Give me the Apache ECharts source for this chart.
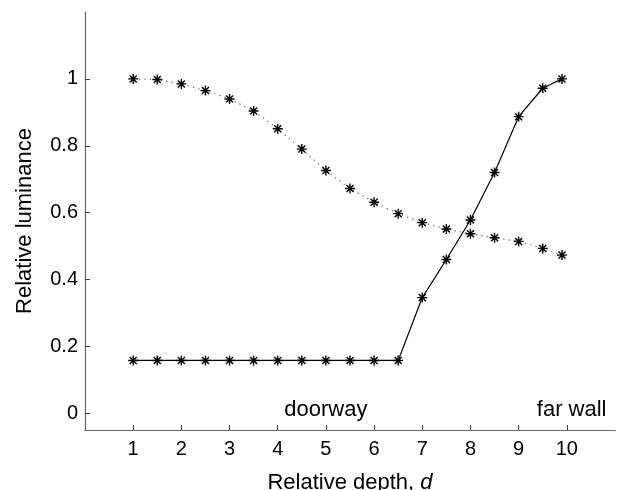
<!DOCTYPE html>
<html>
<head>
<meta charset="utf-8">
<script src="https://cdn.jsdelivr.net/npm/echarts@6/dist/echarts.min.js"></script>
<style>html,body{margin:0;padding:0;background:#fff;}#c{width:618px;height:490px;}</style>
</head>
<body>
<div id="c"></div>
<script>
var xDepth = [1, 1.5, 2, 2.5, 3, 3.5, 4, 4.5, 5, 5.5, 6, 6.5, 7, 7.5, 8, 8.5, 9, 9.5, 9.9];
var yDoorway = [1.0, 0.998, 0.985, 0.965, 0.94, 0.904, 0.851, 0.79, 0.726, 0.672, 0.631, 0.597, 0.57, 0.551, 0.537, 0.525, 0.514, 0.493, 0.473];
var yFarWall = [0.158, 0.158, 0.158, 0.158, 0.158, 0.158, 0.158, 0.158, 0.158, 0.158, 0.158, 0.158, 0.346, 0.46, 0.578, 0.72, 0.887, 0.972, 1.0];
var xTicks = [1, 2, 3, 4, 5, 6, 7, 8, 9, 10];
var yTicks = [0, 0.2, 0.4, 0.6, 0.8, 1];
var annotations = [{ text: 'doorway', x: 5, y: 0 }, { text: 'far wall', x: 10.1, y: 0 }];

var star = 'path://M-0.7,-5 h1.4 v10 h-1.4 Z M-5,-0.7 h10 v1.4 h-10 Z M-4,-3.0 L-3.0,-4 L4,3.0 L3.0,4 Z M3.0,-4 L4,-3.0 L-3.0,4 L-4,3.0 Z';
var font = 'Liberation Sans, Arial, sans-serif';

function pairs(xs, ys) { return xs.map(function (x, i) { return [x, ys[i]]; }); }

var chart = echarts.init(document.getElementById('c'));
chart.setOption({
  animation: false,
  backgroundColor: '#fff',
  grid: { left: 85, top: 12, right: 3, bottom: 60, containLabel: false, outerBoundsMode: 'none' },
  xAxis: {
    type: 'value', min: 0, max: 11,
    name: 'Relative depth, {i|d}', nameLocation: 'middle', nameGap: 42,
    nameTextStyle: { fontFamily: font, fontSize: 22, color: '#000', rich: { i: { fontStyle: 'italic', fontFamily: font, fontSize: 22, color: '#000' } } },
    axisLine: { show: true, onZero: false, lineStyle: { color: '#666', width: 1.2 } },
    axisTick: { show: true, inside: true, length: 5, customValues: xTicks, lineStyle: { color: '#444' } },
    axisLabel: { customValues: xTicks, margin: 9, fontFamily: font, fontSize: 20, color: '#000' },
    splitLine: { show: false }
  },
  yAxis: {
    type: 'value', min: -0.05, max: 1.2,
    name: 'Relative luminance', nameLocation: 'middle', nameGap: 49,
    nameTextStyle: { fontFamily: font, fontSize: 22, color: '#000' },
    axisLine: { show: true, onZero: false, lineStyle: { color: '#666', width: 1.2 } },
    axisTick: { show: true, inside: true, length: 5, customValues: yTicks, lineStyle: { color: '#444' } },
    axisLabel: { customValues: yTicks, margin: 7, fontFamily: font, fontSize: 20, color: '#000',
      formatter: function (v) { return String(Math.round(v * 10) / 10); } },
    splitLine: { show: false }
  },
  series: [
    {
      type: 'line', data: pairs(xDepth, yDoorway),
      symbol: star, symbolSize: 10, showAllSymbol: true,
      itemStyle: { color: '#000' },
      lineStyle: { color: '#777', width: 1.2, type: [1.5, 4] }
    },
    {
      type: 'line', data: pairs(xDepth, yFarWall),
      symbol: star, symbolSize: 10, showAllSymbol: true,
      itemStyle: { color: '#000' },
      lineStyle: { color: '#000', width: 1.2, type: 'solid' }
    },
    {
      type: 'scatter', symbolSize: 0, silent: true,
      itemStyle: { opacity: 1, color: '#000' },
      data: annotations.map(function (a) { return { value: [a.x, a.y], name: a.text }; }),
      label: { show: true, position: 'inside', offset: [0, -3], formatter: '{b}', fontFamily: font, fontSize: 22, color: '#000', opacity: 1 }
    }
  ]
});
</script>
</body>
</html>
